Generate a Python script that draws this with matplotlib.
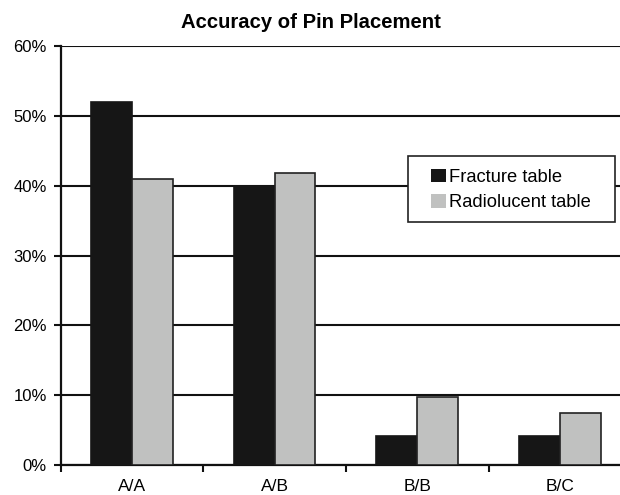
import matplotlib.pyplot as plt
import numpy as np
from matplotlib.patches import Rectangle
from matplotlib.ticker import PercentFormatter

plt.rcParams['font.family'] = ['Liberation Sans', 'DejaVu Sans']

categories = ['A/A', 'A/B', 'B/B', 'B/C']
fracture = [52, 40, 4.2, 4.2]
radiolucent = [41, 41.8, 9.8, 7.5]

fig = plt.figure(figsize=(6.2, 4.95), dpi=100)
ax = fig.add_axes([0.098, 0.0606, 0.92, 0.8464])

x = np.arange(len(categories))
w = 0.286
ax.bar(x - w / 2, fracture, w, color='#161616', edgecolor='#161616', linewidth=1.2,
       label='Fracture table', zorder=3)
ax.bar(x + w / 2, radiolucent, w, color='#c0c1c0', edgecolor='#222222', linewidth=1.2,
       label='Radiolucent table', zorder=3)

ax.set_xlim(-0.5, len(categories) - 0.5)
ax.set_ylim(0, 60)
ax.set_yticks(np.arange(0, 61, 10))
ax.yaxis.set_major_formatter(PercentFormatter(decimals=0))
ax.yaxis.grid(True, color='#111111', linewidth=1.5, zorder=0)

ax.set_xticks(x)
ax.set_xticklabels(categories, fontsize=12.5)
ax.set_xticks(np.arange(-0.5, len(categories)), minor=True)
ax.tick_params(axis='x', which='major', length=0, pad=10)
ax.tick_params(axis='x', which='minor', length=5, width=1.5, color='#111111')
ax.tick_params(axis='y', length=5, width=1.5, color='#111111', labelsize=12, pad=5)

for side in ['top', 'right']:
    ax.spines[side].set_visible(False)
for side in ['left', 'bottom']:
    ax.spines[side].set_linewidth(1.6)
    ax.spines[side].set_color('#111111')

# legend box is wider than its entries, so draw the frame separately
box = Rectangle((0.608, 0.580), 0.363, 0.157, transform=ax.transAxes,
                facecolor='white', edgecolor='#222222', linewidth=1.2, zorder=4)
ax.add_patch(box)
leg = ax.legend(loc='upper left', bbox_to_anchor=(0.649, 0.707), fontsize=13.2,
                frameon=False, handlelength=0.8, handleheight=0.75, handletextpad=0.2,
                borderpad=0, labelspacing=0.45, borderaxespad=0)
leg.set_zorder(5)
for h in leg.legend_handles:
    h.set_linewidth(0)

fig.text(0.502, 0.955, 'Accuracy of Pin Placement', ha='center', va='center',
         fontsize=14.6, fontweight='bold')

fig.savefig('out.png', dpi=100)
